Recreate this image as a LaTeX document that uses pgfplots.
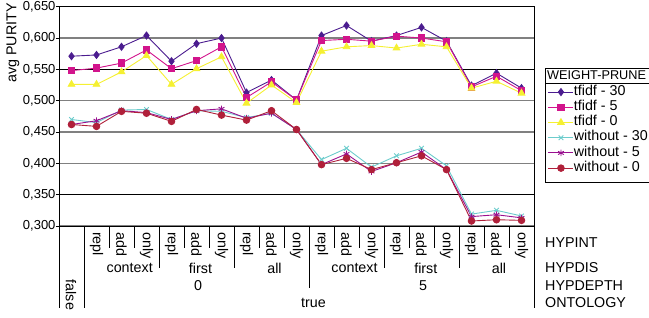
\documentclass[border=0pt]{standalone}
\usepackage{fontspec}
\setmainfont{Liberation Sans}
\usepackage{pgfplots}
\pgfplotsset{compat=1.18}
\definecolor{cA}{RGB}{75,28,143}
\definecolor{cB}{RGB}{210,20,140}
\definecolor{cC}{RGB}{245,240,50}
\definecolor{cD}{RGB}{108,204,204}
\definecolor{cE}{RGB}{153,16,143}
\definecolor{cF}{RGB}{176,32,58}
\definecolor{gridg}{RGB}{128,128,128}
\newcommand{\fs}{\fontsize{14.3}{16}\selectfont}
\newcommand{\ft}{\fontsize{13}{15}\selectfont}
\begin{document}
\begin{tikzpicture}[x=1pt,y=1pt]
\begin{axis}[
  at={(59pt,91pt)}, anchor=south west,
  scale only axis, width=475pt, height=219.3pt,
  xmin=-0.5, xmax=18.5, ymin=0.3, ymax=0.65,
  xtick={0,...,18},
  xticklabels={,repl,add,only,repl,add,only,repl,add,only,repl,add,only,repl,add,only,repl,add,only},
  x tick label style={rotate=-90, anchor=west, font=\fs, inner sep=0pt},
  xticklabel shift=6pt,
  x tick style={draw=none},
  ytick={0.30,0.35,0.40,0.45,0.50,0.55,0.60,0.65},
  ytick pos=left,
  y tick style={black, line width=0.8pt, xshift=-3pt},
  major tick length=3pt,
  yticklabel style={font=\ft, /pgf/number format/.cd, fixed, fixed zerofill, precision=3, use comma, assume math mode=true},
  ymajorgrids, grid style={gridg, line width=1.2pt},
  axis line style={black, line width=0.8pt},
  ylabel={avg PURITY},
  ylabel style={font=\fs, at={(axis description cs:-0.0968,0.834)}, anchor=center},
  legend style={draw=none, fill=none, inner sep=0pt, outer sep=0pt,
    at={(axis description cs:1.0295,0.6452)}, anchor=north west, font=\fs,
    row sep=0pt, nodes={inner sep=0pt, text height=10.7pt, text depth=4.5pt}},
  legend cell align=left,
  legend image code/.code={\draw[mark repeat=2,mark phase=2] plot coordinates {(0pt,0pt)(12.5pt,0pt)(25pt,0pt)};},
  every axis plot/.append style={line width=0.9pt},
]
\draw[black, line width=0.6pt] (axis cs:-0.5,0.55) -- (axis cs:18.5,0.55);
\draw[black, line width=0.6pt] (axis cs:-0.5,0.35) -- (axis cs:18.5,0.35);
\draw[black, line width=0.8pt] (axis cs:-0.5,0.65) -- (axis cs:18.5,0.65);
\addplot[cA, mark=diamond*, mark size=3.5pt] coordinates {
(0,0.571)(1,0.573)(2,0.586)(3,0.604)(4,0.563)(5,0.591)(6,0.600)(7,0.513)(8,0.533)(9,0.501)
(10,0.604)(11,0.620)(12,0.595)(13,0.604)(14,0.617)(15,0.595)(16,0.524)(17,0.544)(18,0.520)};
\addlegendentry{tfidf - 30}
\addplot[cB, mark=square*, mark size=3.2pt] coordinates {
(0,0.548)(1,0.552)(2,0.560)(3,0.581)(4,0.551)(5,0.564)(6,0.586)(7,0.505)(8,0.530)(9,0.501)
(10,0.596)(11,0.598)(12,0.595)(13,0.603)(14,0.600)(15,0.594)(16,0.522)(17,0.539)(18,0.516)};
\addlegendentry{tfidf - 5}
\addplot[cC, mark=triangle*, mark size=3.8pt] coordinates {
(0,0.526)(1,0.526)(2,0.546)(3,0.572)(4,0.526)(5,0.551)(6,0.570)(7,0.496)(8,0.525)(9,0.497)
(10,0.579)(11,0.586)(12,0.588)(13,0.584)(14,0.590)(15,0.586)(16,0.520)(17,0.531)(18,0.512)};
\addlegendentry{tfidf - 0}
\addplot[cD, mark=x, mark size=3.3pt] coordinates {
(0,0.470)(1,0.465)(2,0.485)(3,0.486)(4,0.470)(5,0.484)(6,0.483)(7,0.473)(8,0.480)(9,0.454)
(10,0.406)(11,0.424)(12,0.394)(13,0.412)(14,0.424)(15,0.396)(16,0.319)(17,0.325)(18,0.316)};
\addlegendentry{without - 30}
\addplot[cE, mark=asterisk, mark size=3.3pt] coordinates {
(0,0.462)(1,0.468)(2,0.484)(3,0.481)(4,0.470)(5,0.484)(6,0.487)(7,0.472)(8,0.480)(9,0.454)
(10,0.398)(11,0.415)(12,0.387)(13,0.401)(14,0.418)(15,0.390)(16,0.315)(17,0.318)(18,0.313)};
\addlegendentry{without - 5}
\addplot[cF, mark=*, mark size=3.3pt] coordinates {
(0,0.462)(1,0.459)(2,0.483)(3,0.480)(4,0.467)(5,0.486)(6,0.477)(7,0.469)(8,0.484)(9,0.454)
(10,0.398)(11,0.408)(12,0.390)(13,0.401)(14,0.412)(15,0.390)(16,0.308)(17,0.310)(18,0.309)};
\addlegendentry{without - 0}
\end{axis}
% category separators
\begin{scope}[black, line width=0.8pt]
\draw (59,91) -- (59,9);
\draw (84.3,91) -- (84.3,9);
\foreach \x in {109.3,134.3,184.3,209.3,259.3,284.3,334.3,359.3,409.3,434.3,484.3,509.3}
  \draw (\x,91) -- (\x,69);
\foreach \x in {159.3,234.3,384.3,459.3}
  \draw (\x,91) -- (\x,49);
\draw (309.3,91) -- (309.3,29);
\draw (534,91) -- (534,9);
\end{scope}
% category labels
\begin{scope}[font=\fs]
\node at (129.7,49) {context};
\node at (200.5,49) {first};
\node at (274.5,49) {all};
\node at (354.5,49) {context};
\node at (425.8,49) {first};
\node at (499,49) {all};
\node at (198,31) {0};
\node at (423,31) {5};
\node at (313.5,14) {true};
\node[rotate=-90] at (71,22) {false};
\node[anchor=west, inner sep=0pt] at (545,74) {HYPINT};
\node[anchor=west, inner sep=0pt] at (545,49) {HYPDIS};
\node[anchor=west, inner sep=0pt] at (545,31) {HYPDEPTH};
\node[anchor=west, inner sep=0pt] at (545,14) {ONTOLOGY};
% legend frame and title
\draw[black, line width=0.8pt] (545,249) rectangle (662,135);
\draw[black, line width=0.6pt] (545,234) -- (662,234);
\node[anchor=west, inner sep=0pt, font=\fontsize{12.7}{14}\selectfont] at (547,241.5) {WEIGHT-PRUNE};
\end{scope}
\pgfresetboundingbox
\path[use as bounding box] (0,0) rectangle (649,317);
\end{tikzpicture}
\end{document}
